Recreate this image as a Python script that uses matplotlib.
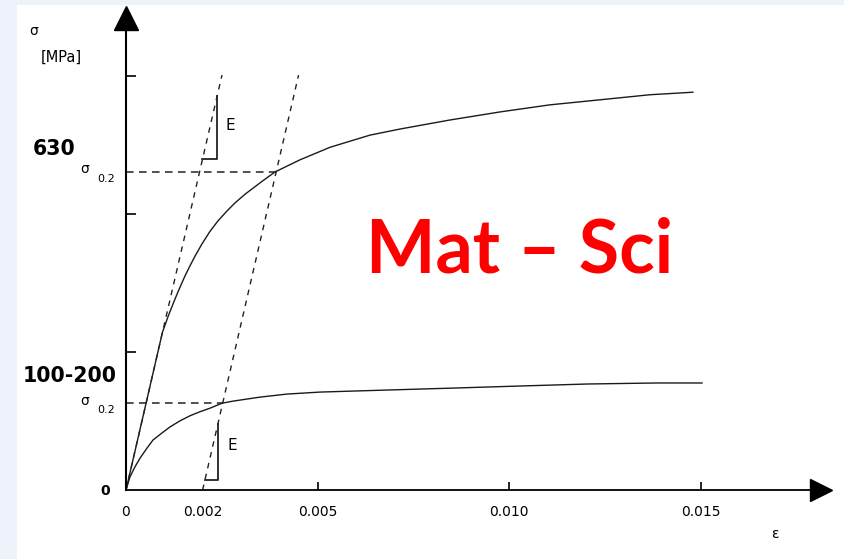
import numpy as np
import matplotlib.pyplot as plt
from matplotlib.patches import Rectangle

# stress-strain curves (strain [-], stress [MPa])
strain_hi = [0, 0.0005, 0.00095, 0.0011, 0.00123, 0.00136, 0.00154, 0.00167, 0.0018, 0.00198,
             0.00219, 0.0024, 0.00264, 0.00285, 0.00311, 0.00337, 0.00358, 0.00389,
             0.00454, 0.00533, 0.00637, 0.00715, 0.00846, 0.00977, 0.01107, 0.01238, 0.01368, 0.0148]
stress_hi = [0, 164, 312, 344, 369, 393, 424, 444, 463, 487,
             512, 533, 553, 569, 586, 601, 613, 630,
             654, 679, 703, 715, 733, 749, 763, 773, 783, 788]

strain_lo = [0, 0.000104, 0.000235, 0.000366, 0.000548, 0.000705, 0.00094, 0.00115, 0.00141,
             0.00167, 0.00193, 0.00219, 0.00251, 0.00279, 0.0035,
             0.0042, 0.00507, 0.00681, 0.00859, 0.01029, 0.01206, 0.01386, 0.01504]
stress_lo = [0, 26, 46, 63, 83, 99, 113, 125, 137,
             147, 155, 162, 172, 176, 184,
             190, 194, 198, 202, 206, 210, 212, 212]

E_mod = 328000.0        # slope of the elastic (dashed) lines, MPa
offset = 0.002          # 0.2 % offset
yield_hi = 630
yield_lo = 172
line_top = 822          # where the dashed elastic lines stop

x_ticks = [0.005, 0.010, 0.015]
x_label_pos = [0, 0.002, 0.005, 0.010, 0.015]
x_labels = ['0', '0.002', '0.005', '0.010', '0.015']
y_ticks = [273, 547, 820]

fig = plt.figure(figsize=(8.44, 5.59), dpi=100)
fig.patch.set_facecolor('#eef2fa')
fig.patches.append(Rectangle((17 / 844, 0), 1, 1 - 5 / 559, transform=fig.transFigure,
                             facecolor='white', edgecolor='none', zorder=-10))

ax = fig.add_axes([0, 0, 1, 1])
ax.set_facecolor('none')
ax.set_xlim(-126 / 38300, (844 - 126) / 38300)
ax.set_ylim(-69 / 0.5048, 490 / 0.5048)

# axes drawn as spines through the origin
for s in ['top', 'right']:
    ax.spines[s].set_visible(False)
ax.spines['left'].set_position(('data', 0))
ax.spines['bottom'].set_position(('data', 0))
ax.spines['left'].set_bounds(0, 915)
ax.spines['bottom'].set_bounds(0, 0.0179)
ax.spines['left'].set_linewidth(1.5)
ax.spines['bottom'].set_linewidth(1.3)
ax.set_xticks(x_ticks)
ax.set_yticks(y_ticks)
ax.set_xticklabels([])
ax.set_yticklabels([])
ax.tick_params(axis='x', direction='in', length=6, width=1.2)
ax.tick_params(axis='y', direction='in', length=7, width=1.2)

# arrow heads
ax.plot(0, 936, marker='^', markersize=17, color='black', clip_on=False)
ax.plot(0.01815, 0, marker='>', markersize=16, color='black', clip_on=False)

# curves
ax.plot(strain_hi, stress_hi, color='#1a1a1a', lw=1.0)
ax.plot(strain_lo, stress_lo, color='#1a1a1a', lw=1.0)

# elastic line and 0.2 % offset line
ax.plot([0, line_top / E_mod], [0, line_top], color='#222222', lw=1.0, dashes=(4, 4))
ax.plot([offset, offset + line_top / E_mod], [0, line_top], color='#222222', lw=1.0, dashes=(4, 4))

# yield levels
x_hi = offset + yield_hi / E_mod
x_lo = offset + yield_lo / E_mod
ax.plot([0, x_hi], [yield_hi, yield_hi], color='#222222', lw=1.1, dashes=(5, 3.5))
ax.plot([0, x_lo], [yield_lo, yield_lo], color='#222222', lw=1.1, dashes=(5, 3.5))

# slope triangles
b, t = 655, 780
ax.plot([b / E_mod, t / E_mod, t / E_mod], [b, b, t], color='#222222', lw=1.3)
b, t = 20, 131
ax.plot([offset + b / E_mod, offset + t / E_mod, offset + t / E_mod], [b, b, t], color='#222222', lw=1.3)
ax.text(0.00272, 713, 'E', fontsize=11, ha='center', va='baseline')
ax.text(0.00277, 79, 'E', fontsize=11, ha='center', va='baseline')

# labels
for xp, lab in zip(x_label_pos, x_labels):
    ax.text(xp, -51.5, lab, fontsize=10, ha='center', va='baseline')
ax.text(-0.00055, -10, '0', fontsize=10, fontweight='bold', ha='center', va='baseline')
ax.text(0.01695, -87, 'ε', fontsize=10, ha='center', va='center')
ax.text(-0.0024, 901, 'σ', fontsize=10, ha='center', va='baseline')
ax.text(-0.0017, 858, '[MPa]', fontsize=10.5, ha='center', va='center')

ax.text(-0.00107, yield_hi - 2, 'σ', fontsize=10, ha='center', va='baseline')
ax.text(-0.00052, yield_hi - 20, '0.2', fontsize=8, ha='center', va='baseline')
ax.text(-0.00107, yield_lo - 4, 'σ', fontsize=10, ha='center', va='baseline')
ax.text(-0.00052, yield_lo - 19.5, '0.2', fontsize=8, ha='center', va='baseline')

ax.text(-0.00188, 664, '630', fontsize=14.8, fontweight='bold', ha='center', va='baseline')
ax.text(-0.00146, 214, '100-200', fontsize=14.8, fontweight='bold', ha='center', va='baseline')

ax.text(0.01029, 430, 'Mat – Sci', fontsize=53, fontweight='bold', family='Lato',
        color='#ff0000', ha='center', va='baseline')

fig.savefig('out.png', dpi=100)
